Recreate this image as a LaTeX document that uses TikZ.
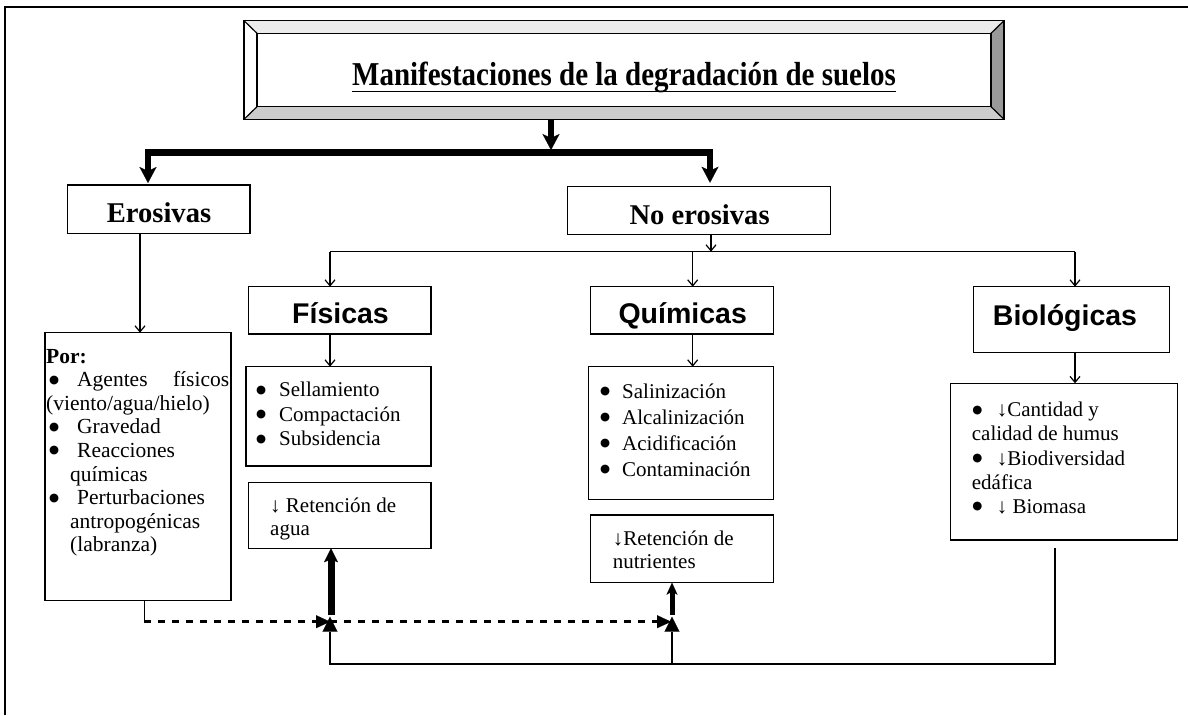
\documentclass[tikz,border=0pt]{standalone}
\usepackage{fontspec}
\setmainfont{Liberation Serif}
\newfontfamily\arialf{Liberation Sans}
\newfontfamily\dejavu{DejaVu Sans}
\usetikzlibrary{arrows.meta,calc}
\definecolor{bevT}{HTML}{EBEBEB}
\definecolor{bevL}{HTML}{FFFFFF}
\definecolor{bevR}{HTML}{999999}
\definecolor{bevB}{HTML}{CCCCCC}
\newcommand\bul[1]{\makebox[#1][l]{\raisebox{3.6pt}{\dejavu\fontsize{11.5}{11.5}\selectfont ●}}}
\begin{document}
\begin{tikzpicture}[x=1pt,y=-1pt,
  box/.style={draw,line width=1.5pt,fill=white,inner sep=0pt,outer sep=0pt,anchor=north west},
  txt/.style={anchor=base west,inner sep=0pt},
  serhead/.style={anchor=base,inner sep=0pt,font=\fontsize{28.6}{30}\selectfont\bfseries},
  sanshead/.style={anchor=base,inner sep=0pt,font=\fontsize{28.5}{30}\selectfont\arialf\bfseries},
  tline/.style={line width=1.2pt},
  tarrow/.style={line width=1.2pt,-{Straight Barb[length=6pt,width=10pt]}},
  bigarrow/.style={line width=6.5pt,line join=miter,-{Stealth[length=16pt,width=17pt,inset=4pt,line width=0.1pt]}},
  uparrowA/.style={line width=7pt,-{Stealth[length=14pt,width=14pt,inset=3pt,line width=0.1pt]}},
  uparrowB/.style={line width=5pt,-{Stealth[length=12pt,width=11pt,inset=3pt,line width=0.1pt]}},
  dashline/.style={line width=2.6pt,dash pattern=on 7pt off 7pt,-{Triangle[length=14pt,width=13pt,line width=0.1pt]}},
  solidtri/.style={line width=1.5pt,line join=miter,-{Triangle[length=15pt,width=15pt,line width=0.1pt]}}
]
\useasboundingbox (0,0) rectangle (1188,715);
\fill[white] (0,0) rectangle (1188,715);
% outer frame
\draw[line width=2pt] (5,715) -- (5,6.7) -- (1188,6.7);

% title with bevel
\node[inner sep=0pt,outer sep=0pt,minimum width=760pt,minimum height=98.6pt,anchor=north west] (title) at (244,20.7) {};
\coordinate (iNW) at (257,33.3);
\coordinate (iNE) at (991,33.3);
\coordinate (iSW) at (257,106.7);
\coordinate (iSE) at (991,106.7);
\fill[bevT] (title.north west) -- (title.north east) -- (iNE) -- (iNW) -- cycle;
\fill[bevL] (title.north west) -- (iNW) -- (iSW) -- (title.south west) -- cycle;
\fill[bevR] (title.north east) -- (title.south east) -- (iSE) -- (iNE) -- cycle;
\fill[bevB] (title.south west) -- (iSW) -- (iSE) -- (title.south east) -- cycle;
\draw[line width=1.5pt] (title.north west) rectangle (title.south east);
\draw[line width=1.5pt] (iNW) rectangle (iSE);
\draw[line width=1.2pt] (title.north west) -- (iNW) (title.north east) -- (iNE)
  (title.south west) -- (iSW) (title.south east) -- (iSE);
\node[anchor=base,inner sep=0pt,font=\fontsize{29}{32}\selectfont\bfseries] (titletext) at (624,85)
  {\scalebox{1}[1.15]{Manifestaciones de la degradación de suelos}};
\draw[line width=1.8pt] ([yshift=-6.5pt]titletext.base west) -- ([yshift=-6.5pt]titletext.base east);

% boxes
\node[box,minimum width=182.7pt,minimum height=48.3pt] (eros) at (67.3,185) {};
\node[box,minimum width=263.3pt,minimum height=47.6pt] (noeros) at (567.3,186.7) {};
\node[box,minimum width=182.7pt,minimum height=47.3pt] (fis) at (248.3,286.7) {};
\node[box,minimum width=182.6pt,minimum height=47.3pt] (qui) at (590.7,286.7) {};
\node[box,minimum width=196pt,minimum height=66pt] (bio) at (973.3,286.7) {};
\node[box,minimum width=186pt,minimum height=268pt] (por) at (45,332.7) {};
\node[box,minimum width=185pt,minimum height=99.3pt] (fisl) at (246,366.7) {};
\node[box,minimum width=182.7pt,minimum height=66pt] (agua) at (248.3,482.3) {};
\node[box,minimum width=185pt,minimum height=132.6pt] (quil) at (588.3,366.7) {};
\node[box,minimum width=182.6pt,minimum height=67.7pt] (nutr) at (590.7,515) {};
\node[box,minimum width=226.6pt,minimum height=156.7pt] (biol) at (950.7,383.3) {};

% headings
\node[serhead] (erostext) at (159,222) {Erosivas};
\node[serhead] (noerostext) at (699.6,224) {No erosivas};
\node[sanshead] (fistext) at (340.5,323.3) {Físicas};
\node[sanshead] (quitext) at (682.7,323.3) {Químicas};
\node[sanshead] (biotext) at (1065,325) {Biológicas};

% body texts
\node[txt] (portext) at (46,363) {\parbox[t]{183pt}{\fontsize{21.5}{23.6}\selectfont
\textbf{Por:}\\
\hspace*{3pt}\bul{28pt}Agentes\hfill físicos\\
(viento/agua/hielo)\\
\hspace*{3pt}\bul{28pt}Gravedad\\
\hspace*{3pt}\bul{28pt}Reacciones\\
\hspace*{24pt}químicas\\
\hspace*{3pt}\bul{28pt}Perturbaciones\\
\hspace*{24pt}antropogénicas\\
\hspace*{24pt}(labranza)}};
\node[txt] (fisltext) at (256,396.7) {\parbox[t]{170pt}{\fontsize{21}{24.5}\selectfont
\bul{23pt}Sellamiento\\
\bul{23pt}Compactación\\
\bul{23pt}Subsidencia}};
\node[txt] (quiltext) at (600,398.3) {\parbox[t]{170pt}{\fontsize{21}{25.9}\selectfont
\bul{22pt}Salinización\\
\bul{22pt}Alcalinización\\
\bul{22pt}Acidificación\\
\bul{22pt}Contaminación}};
\node[txt] (aguatext) at (270,512.3) {\parbox[t]{160pt}{\fontsize{21}{22.7}\selectfont
↓ Retención de\\
agua}};
\node[txt] (nutrtext) at (612.7,545) {\parbox[t]{160pt}{\fontsize{21}{23.3}\selectfont
↓Retención de\\
nutrientes}};
\node[txt] (bioltext) at (971.7,416.7) {\parbox[t]{205pt}{\fontsize{21}{24.2}\selectfont
\hspace*{0.5pt}\bul{24.5pt}↓Cantidad y\\
calidad de humus\\
\hspace*{0.5pt}\bul{24.5pt}↓Biodiversidad\\
edáfica\\
\hspace*{0.5pt}\bul{24.5pt}↓ Biomasa}};

% thick connectors
\draw[bigarrow] (551,0 |- title.south) -- (551,150);
\draw[bigarrow,shorten >=2pt] (551,152.7) -| (148,0 |- eros.north);
\draw[bigarrow,shorten >=4pt] (551,152.7) -| (710,0 |- noeros.north);

% thin connectors
\draw[tarrow] (140,0 |- eros.south) -- (140,0 |- por.north);
\draw[tarrow] (711,0 |- noeros.south) -- (711,251.7);
\draw[tline] (330,251.7) -- (1075,251.7);
\draw[tarrow] (330,251.7) -- (330,0 |- fis.north);
\draw[tarrow] (692.7,251.7) -- (692.7,0 |- qui.north);
\draw[tarrow] (1075,251.7) -- (1075,0 |- bio.north);
\draw[tarrow] (330,0 |- fis.south) -- (330,0 |- fisl.north);
\draw[tarrow] (692.7,0 |- qui.south) -- (692.7,0 |- quil.north);
\draw[tarrow] (1075,0 |- bio.south) -- (1075,0 |- biol.north);

% bottom connectors
\coordinate (pordrop) at (144,621.7);
\coordinate (jA) at (330,621.7);
\coordinate (jB) at (671,621.7);
\draw[line width=1pt] (144,0 |- por.south) -- (pordrop);
\draw[dashline] (pordrop) -- (jA);
\draw[dashline] (jA) -- (jB);
\coordinate (bioout) at ($(1055,0 |- biol.south)+(0,8)$);
\draw[solidtri] (bioout) |- (330,664) -- (330,616.7);
\draw[solidtri] (672,664) -- (672,616.7);
\draw[uparrowA] (331,615) -- (331,0 |- agua.south);
\draw[uparrowB] (672,615) -- (672,0 |- nutr.south);
\end{tikzpicture}
\end{document}
